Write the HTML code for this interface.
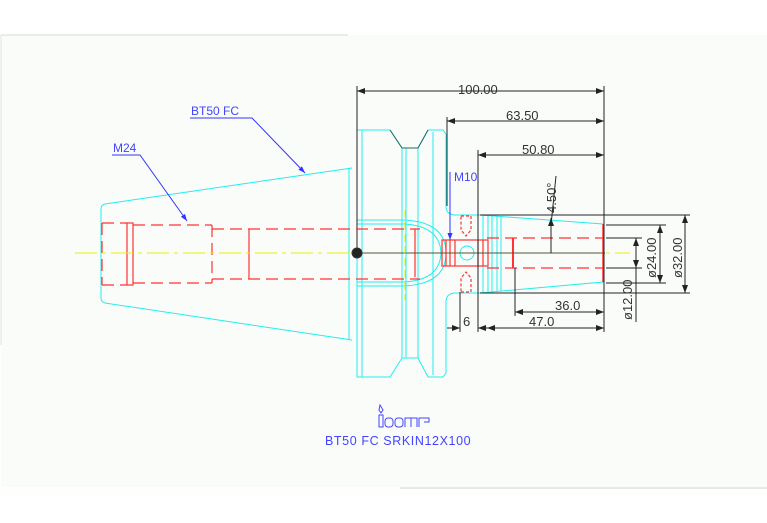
<!DOCTYPE html>
<html><head><style>
html,body{margin:0;padding:0;background:#fff}
svg{display:block}
text{font-family:"Liberation Sans",sans-serif}
</style></head><body>
<svg width="767" height="523" viewBox="0 0 767 523" xmlns="http://www.w3.org/2000/svg">
<rect x="0" y="0" width="767" height="523" fill="#fff"/>
<rect x="1" y="35" width="766" height="452" fill="#fafcfa"/>
<line x1="1" y1="35" x2="348" y2="35" stroke="#d8d8d8"/>
<line x1="1" y1="35" x2="1" y2="345" stroke="#e0e0e0"/>
<line x1="400" y1="488" x2="767" y2="488" stroke="#d0d0d0"/>
<defs>
<marker id="a" markerWidth="8" markerHeight="6" refX="8" refY="3" orient="auto-start-reverse" markerUnits="userSpaceOnUse"><path d="M0,0 L8,3 L0,6z" fill="#222"/></marker>
<marker id="b" markerWidth="7" markerHeight="5" refX="7" refY="2.5" orient="auto" markerUnits="userSpaceOnUse"><path d="M0,0 L7,2.5 L0,5z" fill="#33f"/></marker>
</defs>
<g fill="none" stroke="#2ee" stroke-width="1">
<!-- cone -->
<path d="M352,168 L105,204 Q101,205 101,209 L101,298 Q101,302 105,303 L352,340"/>
<line x1="349" y1="168" x2="349" y2="340"/>
<!-- flange -->
<path d="M357,130 L357,377 L390,377 L402,358 L418,358 L428,377 L443,377 L446,373 L446,302 Q446,294 454,293 L460,293"/>
<path d="M357,130 L390,130 L402,148 L418,148 L428,130 L443,130 L446,134 L446,206 Q446,214 454,215 L480,215 L603,224"/>
<line x1="362" y1="130" x2="362" y2="377"/>
<line x1="402" y1="148" x2="402" y2="358"/>
<line x1="406" y1="148" x2="406" y2="358"/>
<line x1="418" y1="148" x2="418" y2="358"/>
<line x1="433" y1="132" x2="433" y2="375"/>
<!-- bore arc -->
<path d="M357,224 L404,224 Q440,226 441,253 Q440,280 404,282 L357,282"/>
<path d="M357,220 L404,220 Q446,222 446,253 Q446,284 404,286 L357,286"/>
<!-- shank -->
<path d="M460,293 L480,293 L603,282 L603,224"/>
<line x1="478" y1="215" x2="478" y2="293"/>
<line x1="483" y1="215" x2="483" y2="293"/>
<line x1="488" y1="215" x2="488" y2="292"/>
<line x1="492" y1="215" x2="492" y2="292"/>
<line x1="497" y1="216" x2="497" y2="291"/>
<line x1="501" y1="216" x2="501" y2="291"/>
<circle cx="467" cy="253" r="7"/>
</g>
<path d="M390,130 L402,148 L418,148 L428,130" fill="none" stroke="#266" stroke-width="1"/>
<line x1="357" y1="86" x2="357" y2="253" stroke="#222"/>
<!-- red hidden lines -->
<g fill="none" stroke="#f33" stroke-width="1.2">
<g stroke-dasharray="12,6">
<line x1="102" y1="223" x2="127" y2="223"/>
<line x1="102" y1="285" x2="127" y2="285"/>
<line x1="133" y1="225" x2="212" y2="225"/>
<line x1="133" y1="283" x2="212" y2="283"/>
<line x1="212" y1="229" x2="420" y2="229"/>
<line x1="212" y1="279" x2="420" y2="279"/>
<line x1="102" y1="223" x2="102" y2="285"/>
<line x1="212" y1="225" x2="212" y2="283"/>
<line x1="487" y1="238" x2="603" y2="238"/>
<line x1="487" y1="268" x2="603" y2="268"/>
</g>
<rect x="127" y="223" width="6" height="62"/>
<line x1="249" y1="229" x2="249" y2="279"/>
<line x1="415" y1="229" x2="415" y2="277"/>
<line x1="513" y1="238" x2="513" y2="268" stroke-width="2"/>
<line x1="603" y1="224" x2="603" y2="282" stroke-width="1.5"/>
<rect x="442" y="240" width="46" height="26"/>
<line x1="446" y1="240" x2="446" y2="266"/>
<line x1="450" y1="240" x2="450" y2="266"/>
<line x1="455" y1="240" x2="455" y2="266"/>
<line x1="478" y1="240" x2="478" y2="266"/>
<line x1="483" y1="240" x2="483" y2="266"/>
<path d="M461,216 L471,216 L471,230 L466,236 L461,230 Z" stroke-dasharray="3,2"/>
<path d="M461,292 L471,292 L471,278 L466,272 L461,278 Z" stroke-dasharray="3,2"/>
</g>
<!-- centerline -->
<line x1="75" y1="253" x2="630" y2="253" stroke="#ee0" stroke-dasharray="22,5,4,5"/>
<line x1="357" y1="253" x2="605" y2="253" stroke="#553"/>
<line x1="405" y1="210" x2="405" y2="300" stroke="#ee0" stroke-dasharray="8,4"/>
<circle cx="357" cy="253" r="5" fill="#222" stroke="#333"/>
<!-- dimensions -->
<g stroke="#222" stroke-width="1" fill="none">
<line x1="604" y1="86" x2="604" y2="332"/>
<line x1="447" y1="117" x2="447" y2="206"/>
<line x1="478" y1="150" x2="478" y2="332"/>
<line x1="357" y1="91" x2="604" y2="91" marker-start="url(#a)" marker-end="url(#a)"/>
<line x1="447" y1="121" x2="604" y2="121" marker-start="url(#a)" marker-end="url(#a)"/>
<line x1="478" y1="155" x2="604" y2="155" marker-start="url(#a)" marker-end="url(#a)"/>
<line x1="480" y1="215" x2="690" y2="215"/>
<line x1="480" y1="293" x2="690" y2="293"/>
<line x1="606" y1="225" x2="666" y2="225"/>
<line x1="606" y1="283" x2="666" y2="283"/>
<line x1="606" y1="238" x2="642" y2="238"/>
<line x1="606" y1="268" x2="642" y2="268"/>
<line x1="685" y1="215" x2="685" y2="293" marker-start="url(#a)" marker-end="url(#a)"/>
<line x1="660" y1="225" x2="660" y2="283" marker-start="url(#a)" marker-end="url(#a)"/>
<line x1="636" y1="238" x2="636" y2="268" marker-start="url(#a)" marker-end="url(#a)"/>
<line x1="636" y1="268" x2="636" y2="322"/>
<line x1="515" y1="268" x2="515" y2="316"/>
<line x1="515" y1="312" x2="604" y2="312" marker-start="url(#a)" marker-end="url(#a)"/>
<line x1="487" y1="328" x2="604" y2="328" marker-start="url(#a)" marker-end="url(#a)"/>
<line x1="460" y1="292" x2="460" y2="332"/>
<line x1="447" y1="328" x2="460" y2="328" marker-end="url(#a)"/>
<line x1="490" y1="328" x2="478" y2="328" marker-end="url(#a)"/>
<line x1="551" y1="253" x2="551" y2="218" marker-end="url(#a)"/>
<line x1="551" y1="225" x2="556" y2="176"/>
</g>
<g fill="#333" font-size="13">
<text x="458" y="94">100.00</text>
<text x="506" y="120">63.50</text>
<text x="522" y="154">50.80</text>
<text x="555" y="310">36.0</text>
<text x="529" y="326">47.0</text>
<text x="463" y="326">6</text>
<text transform="translate(556,213) rotate(-90)">4.50°</text>
<text transform="translate(656,278) rotate(-90)">ø24.00</text>
<text transform="translate(682,278) rotate(-90)">ø32.00</text>
<text transform="translate(632,320) rotate(-90)">ø12.00</text>
</g>
<!-- leaders -->
<g stroke="#33f" fill="none">
<path d="M190,118 L252,118 L305,173" marker-end="url(#b)"/>
<path d="M112,155 L140,155 L187,221" marker-end="url(#b)"/>
<line x1="450" y1="172" x2="450" y2="240" marker-end="url(#b)"/>
</g>
<g fill="#44f" font-size="12">
<text x="191" y="115">BT50 FC</text>
<text x="113" y="152">M24</text>
<text x="454" y="181">M10</text>
<text x="325" y="445" font-size="12.5" letter-spacing="0.6">BT50 FC SRKIN12X100</text>
</g>
<!-- logo -->
<g stroke="#44f" fill="none" stroke-width="1">
<path d="M380,405 L383,410 L381,413 L379,410 Z"/>
<rect x="379" y="415" width="4" height="12"/>
<rect x="385" y="418" width="8" height="9" rx="3"/>
<rect x="395" y="418" width="8" height="9" rx="3"/>
<path d="M405,427 L405,418 L417,418 L417,427 M411,418 L411,427"/>
<path d="M419,427 L419,418 L429,418 L429,422 L424,422"/>
</g>
</svg>
</body></html>
